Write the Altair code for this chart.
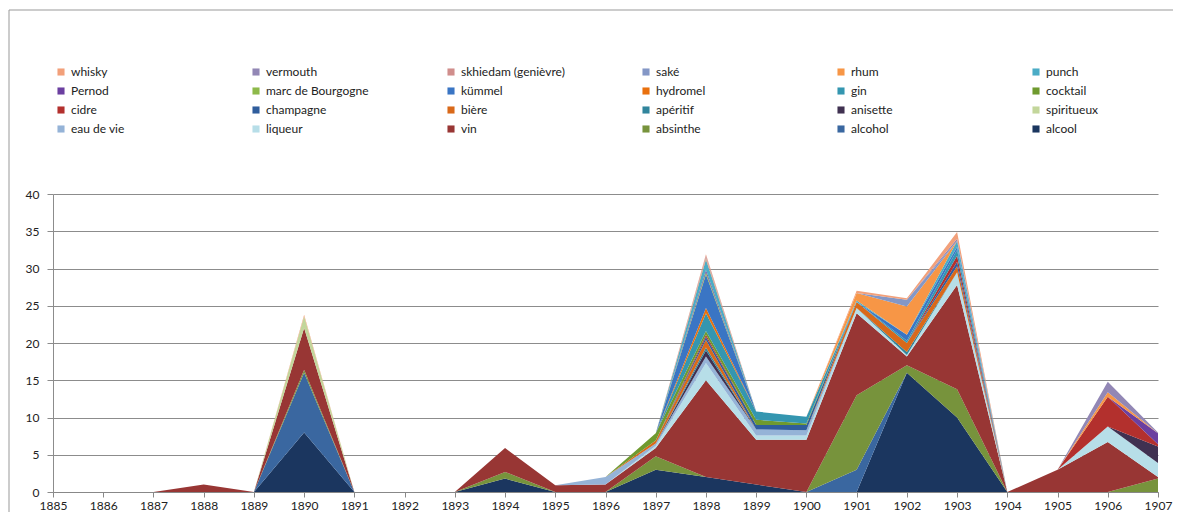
import altair as alt
import pandas as pd

years = [1885, 1886, 1887, 1888, 1889, 1890, 1891, 1892, 1893, 1894, 1895, 1896,
         1897, 1898, 1899, 1900, 1901, 1902, 1903, 1904, 1905, 1906, 1907]

# stack order: bottom first
alcool     = [0,0,0,0,0, 8,0,0,0,1.8, 0,0,3,2,1, 0,0,16,10,0, 0,0,0]
alcohol    = [0,0,0,0,0, 8,0,0,0,0, 0,0,0,0,0, 0,3,0,0,0, 0,0,0]
absinthe   = [0,0,0,0,0, 0.4,0,0,0,0.9, 0,0,1.8,0,0, 0,10,1,3.8,0, 0,0,1.8]
vin        = [0,0,0,1,0, 5.6,0,0,0,3.2, 0.9,1,1.1,13,6, 7,11,1.2,14,0, 3,6.7,0.2]
liqueur    = [0,0,0,0,0, 0,0,0,0,0, 0,0,0.3,2.3,0.6, 0.6,0.7,0.2,1.7,0, 0,2.1,1.9]
eau_de_vie = [0,0,0,0,0, 0,0,0,0,0, 0,1,0.3,0.9,0.8, 0.7,0,0,0,0, 0,0,0]
spiritueux = [0,0,0,0,0, 1.6,0,0,0,0, 0,0,0,0,0, 0,0,0,0,0, 0,0,0]
anisette   = [0,0,0,0,0, 0,0,0,0,0, 0,0,0,0.8,0, 0,0,0,0,0, 0,0,2.2]
aperitif   = [0,0,0,0,0, 0,0,0,0,0, 0,0,0,0.4,0, 0,0,0.4,0,0, 0,0,0]
biere      = [0,0,0,0,0, 0,0,0,0,0, 0,0,0.4,1.0,0, 0,0.8,1.2,0.8,0, 0,0,0]
champagne  = [0,0,0,0,0, 0,0,0,0,0, 0,0,0,0.4,0.6, 0.7,0,0,0.6,0, 0,0,0]
cidre      = [0,0,0,0,0, 0,0,0,0,0, 0,0,0,0.3,0, 0,0,0,0.8,0, 0,4.0,0.3]
cocktail   = [0,0,0,0,0, 0,0,0,0,0, 0,0,1.0,0.5,0.7, 0.2,0,0,0,0, 0,0,0]
gin        = [0,0,0,0,0, 0,0,0,0,0, 0,0,0,2.4,1.1, 0.9,0,0.3,0.8,0, 0,0,0]
hydromel   = [0,0,0,0,0, 0,0,0,0,0, 0,0,0,0.7,0, 0,0,0,0,0, 0,0,0]
kummel     = [0,0,0,0,0, 0,0,0,0,0, 0,0,0,4.5,0, 0,0,0.8,0.4,0, 0,0,0]
marc       = [0,0,0,0,0, 0,0,0,0,0, 0,0,0,0.3,0, 0,0,0,0,0, 0,0,0]
pernod     = [0,0,0,0,0, 0,0,0,0,0, 0,0,0,0.3,0, 0,0,0,0,0, 0,0,1.5]
punch      = [0,0,0,0,0, 0,0,0,0,0, 0,0,0,1.4,0, 0,0.2,0,0.8,0, 0,0,0]
rhum       = [0,0,0,0,0, 0,0,0,0,0, 0,0,0,0.2,0, 0,1.0,3.8,0,0, 0,0.6,0]
sake       = [0,0,0,0,0, 0,0,0,0,0, 0,0,0,0.1,0, 0,0,0.9,0,0, 0,0,0]
skhiedam   = [0,0,0,0,0, 0,0,0,0,0, 0,0,0,0.3,0, 0,0,0,0,0, 0,0,0]
vermouth   = [0,0,0,0,0, 0,0,0,0,0, 0,0,0,0,0, 0,0,0,0.3,0, 0,1.4,0.1]
whisky     = [0,0,0,0,0, 0.2,0,0,0,0, 0,0,0,0.1,0, 0,0.3,0.2,0.9,0, 0,0,0]

names = ["alcool", "alcohol", "absinthe", "vin", "liqueur", "eau de vie", "spiritueux",
         "anisette", "apéritif", "bière", "champagne", "cidre", "cocktail", "gin",
         "hydromel", "kümmel", "marc de Bourgogne", "Pernod", "punch", "rhum", "saké",
         "skhiedam (genièvre)", "vermouth", "whisky"]
series = [alcool, alcohol, absinthe, vin, liqueur, eau_de_vie, spiritueux, anisette,
          aperitif, biere, champagne, cidre, cocktail, gin, hydromel, kummel, marc,
          pernod, punch, rhum, sake, skhiedam, vermouth, whisky]
colors = ["#1B365F", "#3A67A0", "#77933C", "#983634", "#B7DEE8", "#95B3D7", "#C3D69B",
          "#403151", "#31859C", "#D9691A", "#2F5D9C", "#B3302D", "#6F9A2F", "#3496B0",
          "#E9700D", "#3A75C4", "#8DB94A", "#6B3FA0", "#4BACC6", "#F79646", "#8497C6",
          "#D08E8C", "#9287B5", "#F2A07A"]

rows = []
for k, (n, vals) in enumerate(zip(names, series)):
    for y, v in zip(years, vals):
        rows.append({"year": y, "name": n, "value": v, "k": k})
df = pd.DataFrame(rows)

legend_domain = names[::-1]
legend_range = colors[::-1]

FONT = "Lato"

area = alt.Chart(df).mark_area(interpolate="linear", opacity=1).encode(
    x=alt.X("year:Q", scale=alt.Scale(domain=[1885, 1907], nice=False, zero=False),
            axis=alt.Axis(values=years, format="d", title=None, grid=False,
                          labelFontSize=12, labelColor="#222", labelFont=FONT,
                          tickSize=5, tickColor="#888", domainColor="#888",
                          labelPadding=3, labelFlush=False)),
    y=alt.Y("value:Q", stack="zero", scale=alt.Scale(domain=[0, 40], nice=False),
            axis=alt.Axis(values=[0, 5, 10, 15, 20, 25, 30, 35, 40], title=None,
                          grid=True, gridColor="#8c8c8c", gridWidth=1.2,
                          labelFontSize=12, labelColor="#222", labelFont=FONT,
                          tickSize=6, tickColor="#8c8c8c", domainColor="#8c8c8c",
                          labelPadding=8)),
    color=alt.Color("name:N", scale=alt.Scale(domain=legend_domain, range=legend_range),
                    legend=alt.Legend(title=None, orient="none", legendX=2, legendY=-128,
                                      direction="horizontal",
                                      columns=6, gridAlign="all", columnPadding=75,
                                      rowPadding=7, symbolType="square", symbolSize=50,
                                      symbolStrokeWidth=0, labelFontSize=12,
                                      labelFont=FONT, labelColor="#222",
                                      labelOffset=4, symbolLimit=0)),
    order=alt.Order("k:Q", sort="ascending"),
)

frame_data = pd.DataFrame({"a": [0]})
top_line = alt.Chart(frame_data).mark_rule(color="#999", strokeWidth=1).encode(
    x=alt.value(-44), x2=alt.value(1130), y=alt.value(-184))
left_line = alt.Chart(frame_data).mark_rule(color="#999", strokeWidth=1).encode(
    x=alt.value(-44), y=alt.value(-184), y2=alt.value(320))

chart = alt.layer(area, top_line, left_line).properties(
    width=1105, height=298,
    padding={"left": 45, "top": 186, "right": 15, "bottom": 20},
    autosize="none",
).configure_view(stroke=None)

chart.save("out.html", embed_options={"renderer": "svg", "actions": False})
